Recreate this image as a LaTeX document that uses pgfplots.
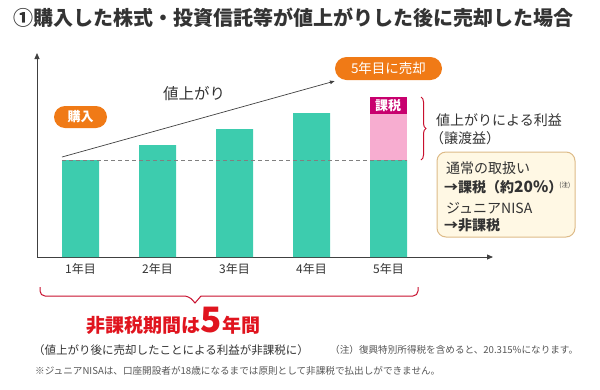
\documentclass[border=0pt]{standalone}
\usepackage{fontspec}
\setmainfont{Noto Sans CJK JP}
\usepackage{pgfplots}
\pgfplotsset{compat=1.18}
\usetikzlibrary{arrows.meta,decorations.pathreplacing}
\definecolor{barteal}{HTML}{3DCCAE}
\definecolor{barpink}{HTML}{F7ADD0}
\definecolor{taxmag}{HTML}{C8006E}
\definecolor{orng}{HTML}{F07A16}
\definecolor{bracered}{HTML}{C8102E}
\definecolor{txtred}{HTML}{E0141E}
\definecolor{cream}{HTML}{FFF8E4}
\definecolor{tanbd}{HTML}{DDBB88}
\definecolor{txt}{HTML}{333333}
\definecolor{note}{HTML}{555555}
\newcommand{\fs}[1]{\fontsize{#1}{#1}\selectfont}
\begin{document}
\begin{tikzpicture}
\useasboundingbox (0,0) rectangle (600pt,-389pt);
\begin{axis}[
  at={(37pt,-257pt)}, anchor=south west,
  scale only axis, width=456pt, height=204pt,
  xmin=0.435, xmax=6.357, ymin=0, ymax=204,
  axis x line=bottom, axis y line=left,
  axis line style={draw=black!75, line width=0.8pt, -{Triangle[length=6pt,width=5pt]}},
  ytick=\empty, xtick={1,2,3,4,5},
  xticklabels={1年目,2年目,3年目,4年目,5年目},
  major tick length=0pt,
  xticklabel style={font=\fs{12}, text=txt, yshift=-3pt},
  ybar stacked, bar width=37pt,
  clip=false,
]
\addplot[fill=barteal, draw=none] coordinates {(1,97) (2,112) (3,128) (4,144) (5,97)};
\addplot[fill=barpink, draw=none] coordinates {(1,0) (2,0) (3,0) (4,0) (5,46)};
\end{axis}
\begin{scope}[x=1pt,y=-1pt]
% title
\node[anchor=west, text=txt, font=\bfseries\fs{20}, inner sep=0] at (13,18) {①購入した株式・投資信託等が値上がりした後に売却した場合};
% dashed line
\draw[black!50, line width=0.8pt, dash pattern=on 4pt off 3pt] (62,160) -- (407,160);
% rise arrow
\draw[black!75, line width=0.7pt, -{Latex[length=5pt,width=4pt]}] (62,157) -- (335,81);
\node[text=txt, font=\fs{15.5}] at (194,94) {値上がり};
% orange boxes
\node[fill=orng, rounded corners=11pt, minimum width=53pt, minimum height=22pt, inner sep=0, text=white, font=\bfseries\fs{13}] at (80.5,117) {購入};
\node[fill=orng, rounded corners=11.5pt, minimum width=107pt, minimum height=23pt, inner sep=0, text=white, font=\fs{13.5}] at (388.5,68.5) {5年目に売却};
% tax label
\node[fill=taxmag, minimum width=37pt, minimum height=17pt, inner sep=0, text=white, font=\bfseries\fs{13}] at (388,105.5) {課税};
% right brace
\draw[bracered, line width=1pt, decorate, decoration={brace, amplitude=5pt}] (421,97) -- (421,160);
\node[anchor=west, text=txt, font=\fs{14}, inner sep=0] at (436,120) {値上がりによる利益};
\node[anchor=west, text=txt, font=\fs{14}, inner sep=0] at (430,138) {（譲渡益）};
% info box
\draw[fill=cream, draw=tanbd, line width=1pt, rounded corners=9pt] (437,152) rectangle (575,237);
\node[anchor=west, text=txt, font=\fs{14}, inner sep=0] at (446,168) {通常の取扱い};
\node[anchor=west, text=txt, font=\bfseries\fs{14}, inner sep=0] at (444,187) {→課税（約{\fs{15.5}20\%}）\hspace{-3pt}\raisebox{5pt}{\mdseries\fs{6.5}(注)}};
\node[anchor=west, text=txt, font=\fs{14}, inner sep=0] at (446,208) {ジュニアNISA};
\node[anchor=west, text=txt, font=\bfseries\fs{14}, inner sep=0] at (444,225) {→非課税};
% bottom brace
\draw[bracered, line width=1pt] (40,287) [rounded corners=5pt] -- (40,296) -- (189,296) [sharp corners] -- (195,303) -- (201,296) [rounded corners=5pt] -- (418,296) -- (418,287);
\node[anchor=base, text=txtred, font=\bfseries\fs{19}, inner sep=0] at (173.5,332) {非課税期間は{\fs{35}5}年間};
\node[anchor=west, text=txt, font=\fs{11.5}, inner sep=0] at (33,350) {（値上がり後に売却したことによる利益が非課税に）};
\node[anchor=west, text=note, font=\fs{9.6}, inner sep=0] at (330,350) {（注）復興特別所得税を含めると、20.315\%になります。};
\node[anchor=west, text=note, font=\fs{9.6}, inner sep=0] at (35,371) {※ジュニアNISAは、口座開設者が18歳になるまでは原則として非課税で払出しができません。};
\end{scope}
\end{tikzpicture}
\end{document}
